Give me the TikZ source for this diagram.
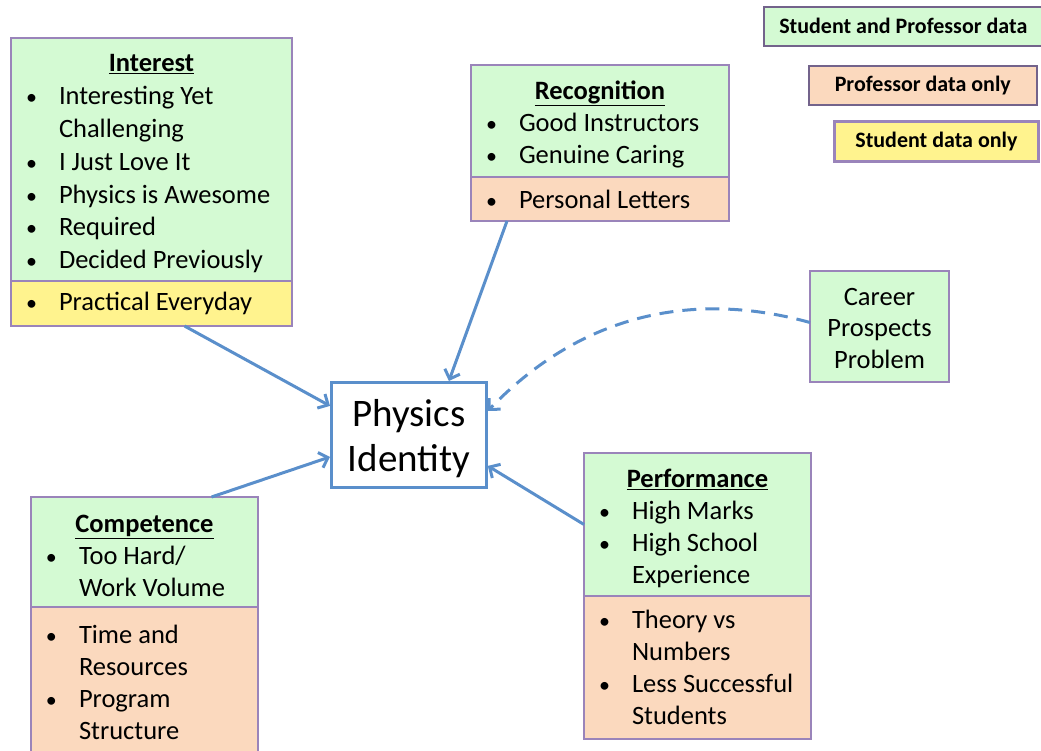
\documentclass[tikz,border=0pt]{standalone}
\usepackage{fontspec}
\setmainfont{Carlito}
\usetikzlibrary{arrows.meta, positioning}

\definecolor{both}{HTML}{D4FAD3}
\definecolor{prof}{HTML}{FBD9BE}
\definecolor{stud}{HTML}{FFF38E}
\definecolor{frame}{HTML}{9A84BA}
\definecolor{arrowblue}{HTML}{5A8FCB}

\newcommand{\cat}[1]{\makebox[\linewidth]{\rule{0pt}{26pt}\bfseries\underline{#1}}}
\newcommand{\itm}[1]{\hspace*{9pt}\makebox[33pt][l]{\fontsize{22}{0}\selectfont\textbullet}#1}
\newcommand{\more}[1]{\hspace*{42pt}#1}

\begin{document}
\begin{tikzpicture}[x=1pt, y=-1pt, >={Straight Barb[length=8pt, width=16pt]},
  box/.style={draw=frame, line width=2.8pt, outer sep=0pt, inner xsep=6pt,
    inner ysep=0pt, align=flush left, font=\fontsize{26.5}{32}\selectfont},
  key/.style={draw=frame!75!black, line width=1.6pt, inner sep=0pt, anchor=north west,
    font=\fontsize{22}{26}\selectfont\bfseries},
  link/.style={arrowblue, line width=3pt}]
  \useasboundingbox (0,0) rectangle (1041,750);

  % legend
  \node[key, fill=both, minimum width=279pt, minimum height=39pt] (k1) at (763,6) {Student and Professor data};
  \node[key, fill=prof, minimum width=228pt, minimum height=39pt] (k2) at (808,65) {Professor data only};
  \node[key, fill=stud, draw=frame, line width=2.8pt, minimum width=204pt, minimum height=40pt] (k3) at (833,120) {Student data only};

  % centre
  \node[draw=arrowblue, line width=2.8pt, fill=white, minimum width=155pt, minimum height=105pt,
    anchor=north west, align=center, font=\fontsize{39}{45}\selectfont] (pi) at (330,381)
    {\rule{0pt}{35pt}Physics\\Identity};

  % categories
  \node[box, fill=both, text width=269pt, minimum height=243pt, anchor=north west,
    font=\fontsize{26.5}{32.8}\selectfont] (interest) at (11,38)
    {\cat{Interest}\\ \itm{Interesting Yet}\\ \more{Challenging}\\ \itm{I Just Love It}\\
     \itm{Physics is Awesome}\\ \itm{Required}\\ \itm{Decided Previously}};
  \node[box, fill=stud, text width=269pt, minimum height=45pt, below=0pt of interest] (interestx)
    {\itm{Practical Everyday}};

  \node[box, fill=both, text width=246pt, minimum height=112pt, anchor=north west] (rec) at (471,65)
    {\cat{Recognition}\\ \itm{Good Instructors}\\ \itm{Genuine Caring}};
  \node[box, fill=prof, text width=246pt, minimum height=44pt, below=0pt of rec] (recx)
    {\itm{Personal Letters}};

  \node[box, fill=both, text width=127pt, minimum height=111pt, align=center,
    font=\fontsize{26.5}{31.5}\selectfont, anchor=north west] (career) at (810,271)
    {\rule{0pt}{21pt}Career\\Prospects\\Problem};

  \node[box, fill=both, text width=215pt, minimum height=110pt, anchor=north west] (comp) at (31,497)
    {\cat{Competence}\\ \itm{Too Hard/}\\ \more{Work Volume}};
  \node[box, fill=prof, text width=215pt, minimum height=150pt, below=0pt of comp] (compx)
    {\itm{Time and}\\ \more{Resources}\\ \itm{Program}\\ \more{Structure}};

  \node[box, fill=both, text width=215pt, minimum height=143pt, anchor=north west] (perf) at (584,453)
    {\cat{Performance}\\ \itm{High Marks}\\ \itm{High School}\\ \more{Experience}};
  \node[box, fill=prof, text width=215pt, minimum height=143pt, below=0pt of perf] (perfx)
    {\itm{Theory vs}\\ \more{Numbers}\\ \itm{Less Successful}\\ \more{Students}};

  % influences
  \path[->, link]
    ([xshift=33pt]interestx.south) edge ([yshift=29pt]pi.west)
    ([xshift=-93pt]recx.south) edge ([xshift=40pt]pi.north)
    ([xshift=67pt]comp.north) edge ([yshift=-22pt]pi.west)
    (perf.west) edge ([yshift=-31pt]pi.east);
  \draw[->, link, dash pattern=on 14pt off 9pt]
    ([yshift=4pt]career.west) .. controls (715,296) and (595,300) .. ([yshift=24pt]pi.east);
\end{tikzpicture}
\end{document}
